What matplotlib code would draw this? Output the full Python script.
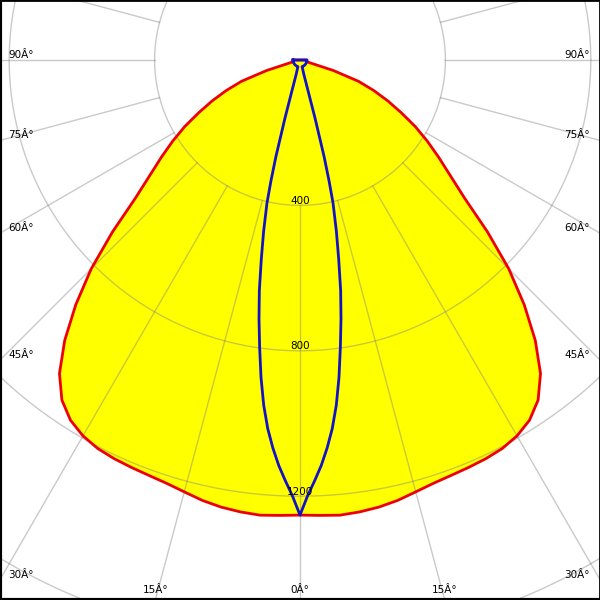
import numpy as np
import matplotlib
matplotlib.use("Agg")
import matplotlib.pyplot as plt

# ---- data (luminous intensity, cd, vs gamma angle in degrees) ----
red_gamma = [0, 2.5, 5, 7.5, 10, 12.5, 15, 17.5, 20, 22.5, 25, 27.5, 30, 32.5, 35,
             37.5, 40, 42.5, 45, 47.5, 50, 52.5, 55, 57.5, 60, 62.5, 65, 67.5, 70,
             72.5, 75, 77.5, 80, 85, 90]
red_cd = [1252, 1254, 1257, 1254, 1249, 1241, 1230, 1221, 1216, 1213, 1210, 1205, 1194,
          1175, 1142, 1087, 1007, 913, 812, 699, 591, 520, 465, 415, 366, 314, 267,
          220, 171, 96, 22, 19, 19, 19, 19]

blue_gamma = [0, 1, 2, 3, 4, 5, 6, 7, 8, 9, 10, 11, 12, 13, 13.5, 14, 14.5, 15,
              17.5, 20, 30, 40, 50, 60, 70, 80, 90]
blue_cd = [1252, 1199, 1158, 1117, 1070, 1018, 955, 880, 798, 721, 644, 558, 481, 404,
           344, 275, 165, 41, 19, 19, 19, 19, 19, 19, 19, 19, 19]

ring_values = [400, 800, 1200, 1600]
ring_labels = ["400", "800", "1200"]
side_angles = [90, 75, 60, 45, 30]
bottom_angles = [15, 0]
deg_suffix = "\u00c2\u00b0"

# ---- geometry ----
S = 0.3635          # pixels per cd
W, H = 600, 600
CX, CY = 300, 60    # pixel position of origin (from top-left)
xmin, xmax = -CX / S, (W - CX) / S
ymin, ymax = -(H - CY) / S, CY / S

fig = plt.figure(figsize=(6, 6), dpi=100)
ax = fig.add_axes([0, 0, 1, 1])
ax.set_xlim(xmin, xmax)
ax.set_ylim(ymin, ymax)
ax.set_aspect("equal")
ax.set_xticks([])
ax.set_yticks([])
for side, sp in ax.spines.items():
    sp.set_color("black")
    sp.set_linewidth(3.0 if side in ("left", "bottom") else 2.0)


def curve(gamma, cd):
    g = np.radians(np.asarray(gamma, float))
    r = np.asarray(cd, float)
    xl, yl = -r * np.sin(g), -r * np.cos(g)
    xr, yr = r * np.sin(g), -r * np.cos(g)
    x = np.concatenate([xl[::-1], xr[1:]])
    y = np.concatenate([yl[::-1], yr[1:]])
    x = np.append(x, x[0])
    y = np.append(y, y[0])
    return x, y

rx, ry = curve(red_gamma, red_cd)
bx, by = curve(blue_gamma, blue_cd)

ax.fill(rx, ry, color="#ffff00", zorder=1, lw=0)

# grid
gcol = "#808080"
galpha = 0.42
t = np.linspace(0, 2 * np.pi, 721)
for rv in ring_values:
    ax.plot(rv * np.cos(t), rv * np.sin(t), color=gcol, alpha=galpha, lw=1.0, zorder=2)
r0 = ring_values[0]
for a in range(0, 360, 15):
    ar = np.radians(a)
    ax.plot([r0 * np.sin(ar), 4000 * np.sin(ar)], [-r0 * np.cos(ar), -4000 * np.cos(ar)],
            color=gcol, alpha=galpha, lw=1.0, zorder=2)

ax.plot(rx, ry, color="#ee0000", lw=2.0, zorder=3, solid_joinstyle="round")
ax.plot(bx, by, color="#1212c8", lw=2.0, zorder=4, solid_joinstyle="round")

fs = 7.5
for rv, lab in zip(ring_values, ring_labels):
    ax.text(0, -rv + 1.5 / S, lab, ha="center", va="baseline", fontsize=fs, zorder=5)

for a in side_angles:
    ar = np.radians(a)
    yint = -np.cos(ar) * (-xmin / np.sin(ar))
    ax.text(xmin + 8 / S, yint + 2 / S, f"{a}{deg_suffix}", ha="left", va="baseline",
            fontsize=fs, zorder=5)
    ax.text(xmax - 10 / S, yint + 2 / S, f"{a}{deg_suffix}", ha="right", va="baseline",
            fontsize=fs, zorder=5)

for a in bottom_angles:
    ar = np.radians(a)
    xint = np.tan(ar) * (-ymin)
    for sgn in ([-1, 1] if a != 0 else [1]):
        ax.text(sgn * xint, ymin + 7 / S, f"{a}{deg_suffix}", ha="center", va="baseline",
                fontsize=fs, zorder=5)

fig.savefig("out.png", dpi=100)
